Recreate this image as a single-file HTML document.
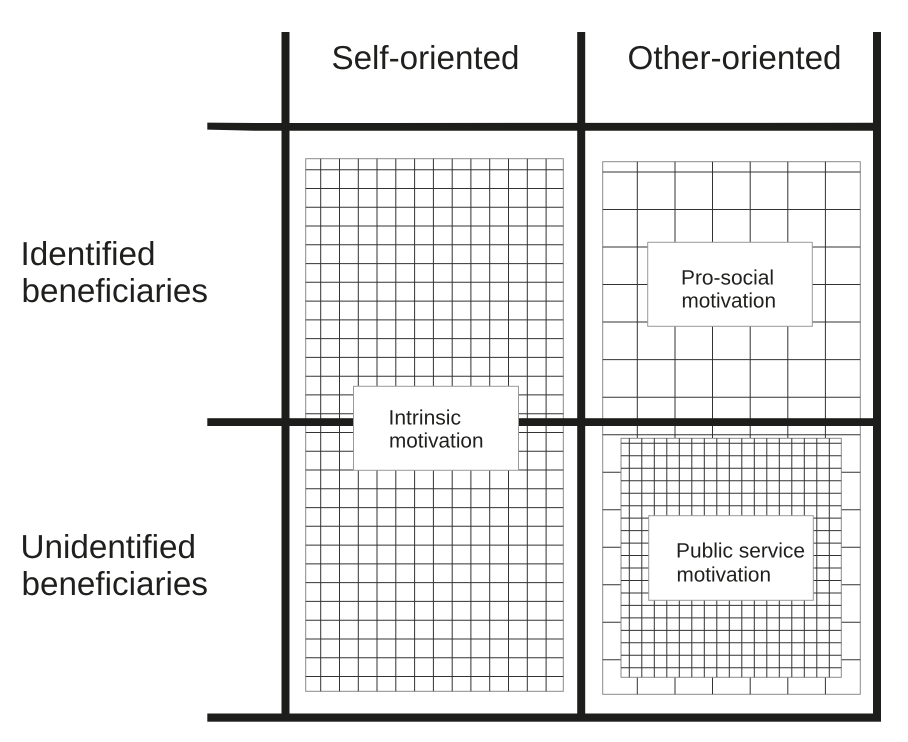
<!DOCTYPE html>
<html lang="en">
<head>
<meta charset="utf-8">
<title>Motivation matrix</title>
<style>
html,body{margin:0;padding:0;background:#fff;width:908px;height:742px;overflow:hidden}
svg{display:block}
text{font-family:"Liberation Sans",Arial,sans-serif;fill:#1f1f1d;text-rendering:geometricPrecision}
.b{font-size:33.2px}
.s{font-size:20.8px}
</style>
</head>
<body>
<svg width="908" height="742" viewBox="0 0 908 742" xmlns="http://www.w3.org/2000/svg">
<rect width="908" height="742" fill="#fff"/>

<!-- Left grid -->
<rect x="305.7" y="158.7" width="257.6" height="532.6" fill="#fff" stroke="#8a8a8a" stroke-width="1"/>
<path fill="none" stroke="#333" stroke-width="1" d="M320.7 158.7V691.3M339.5 158.7V691.3M358.3 158.7V691.3M377 158.7V691.3M395.8 158.7V691.3M414.6 158.7V691.3M433.4 158.7V691.3M452.2 158.7V691.3M470.9 158.7V691.3M489.7 158.7V691.3M508.5 158.7V691.3M527.3 158.7V691.3M546.1 158.7V691.3"/>
<path fill="none" stroke="#333" stroke-width="1" d="M305.7 169.7H563.3M305.7 188.5H563.3M305.7 207.2H563.3M305.7 226H563.3M305.7 244.8H563.3M305.7 263.6H563.3M305.7 282.3H563.3M305.7 301.1H563.3M305.7 319.9H563.3M305.7 338.6H563.3M305.7 357.4H563.3M305.7 376.2H563.3M305.7 394.9H563.3M305.7 413.7H563.3M305.7 432.5H563.3M305.7 451.3H563.3M305.7 470H563.3M305.7 488.8H563.3M305.7 507.6H563.3M305.7 526.3H563.3M305.7 545.1H563.3M305.7 563.9H563.3M305.7 582.6H563.3M305.7 601.4H563.3M305.7 620.2H563.3M305.7 639H563.3M305.7 657.7H563.3M305.7 676.5H563.3"/>

<!-- Right outer grid -->
<rect x="602.7" y="161.7" width="257.6" height="532.6" fill="#fff" stroke="#8a8a8a" stroke-width="1"/>
<path fill="none" stroke="#333" stroke-width="1" d="M637.3 161.7V694.3M675 161.7V694.3M712.5 161.7V694.3M750.2 161.7V694.3M787.8 161.7V694.3M825.4 161.7V694.3"/>
<path fill="none" stroke="#333" stroke-width="1" d="M602.7 172H860.3M602.7 209.5H860.3M602.7 247H860.3M602.7 284.5H860.3M602.7 322H860.3M602.7 359.6H860.3M602.7 397.2H860.3M602.7 434.7H860.3M602.7 472.2H860.3M602.7 509.7H860.3M602.7 547.2H860.3M602.7 584.7H860.3M602.7 622.2H860.3M602.7 659.7H860.3"/>

<!-- Right inner grid -->
<rect x="621" y="438.3" width="220.3" height="239" fill="#fff" stroke="#8a8a8a" stroke-width="1"/>
<path fill="none" stroke="#333" stroke-width="1" d="M629.3 438.3V677.3M641.8 438.3V677.3M654.3 438.3V677.3M666.8 438.3V677.3M679.3 438.3V677.3M691.8 438.3V677.3M704.3 438.3V677.3M716.8 438.3V677.3M729.3 438.3V677.3M741.8 438.3V677.3M754.3 438.3V677.3M766.8 438.3V677.3M779.3 438.3V677.3M791.8 438.3V677.3M804.3 438.3V677.3M816.8 438.3V677.3M829.3 438.3V677.3"/>
<path fill="none" stroke="#333" stroke-width="1" d="M621 443.3H841.3M621 455.8H841.3M621 468.2H841.3M621 480.7H841.3M621 493.2H841.3M621 505.7H841.3M621 518.1H841.3M621 530.6H841.3M621 543.1H841.3M621 555.5H841.3M621 568H841.3M621 580.5H841.3M621 593H841.3M621 605.4H841.3M621 617.9H841.3M621 630.4H841.3M621 642.8H841.3M621 655.3H841.3M621 667.8H841.3"/>

<!-- Thick matrix lines -->
<g fill="#1d1d1b">
<rect x="281.5" y="32" width="8" height="689.5"/>
<rect x="577.2" y="32" width="8" height="689.5"/>
<rect x="873" y="32" width="8" height="689.5"/>
<path d="M207.3 122.6L255 123L881 122.8V130.7H255L207.3 129.6Z"/>
<rect x="207.3" y="418.2" width="673.7" height="7.8"/>
<rect x="207.3" y="713.5" width="673.7" height="8.2"/>
</g>

<!-- Label boxes -->
<g fill="#fff" stroke="#9a9a9a" stroke-width="1">
<rect x="353.5" y="386.3" width="165" height="84"/>
<rect x="647.7" y="242.3" width="164.6" height="84"/>
<rect x="648.7" y="515.7" width="164.6" height="84.6"/>
</g>

<!-- Text -->
<text class="b" x="331.5" y="69" textLength="188" lengthAdjust="spacingAndGlyphs">Self-oriented</text>
<text class="b" x="627.5" y="69" textLength="214" lengthAdjust="spacingAndGlyphs">Other-oriented</text>
<text class="b" x="20.5" y="265" textLength="135" lengthAdjust="spacingAndGlyphs">Identified</text>
<text class="b" x="21.5" y="302" textLength="186.5" lengthAdjust="spacingAndGlyphs">beneficiaries</text>
<text class="b" x="20.5" y="558" textLength="175.5" lengthAdjust="spacingAndGlyphs">Unidentified</text>
<text class="b" x="21.5" y="595" textLength="186.5" lengthAdjust="spacingAndGlyphs">beneficiaries</text>

<text class="s" x="388.5" y="424.3" textLength="72.5" lengthAdjust="spacingAndGlyphs">Intrinsic</text>
<text class="s" x="389" y="447.3" textLength="94.5" lengthAdjust="spacingAndGlyphs">motivation</text>
<text class="s" x="681" y="284.3" textLength="93" lengthAdjust="spacingAndGlyphs">Pro-social</text>
<text class="s" x="681.5" y="307.3" textLength="94.5" lengthAdjust="spacingAndGlyphs">motivation</text>
<text class="s" x="676" y="557.7" textLength="129" lengthAdjust="spacingAndGlyphs">Public service</text>
<text class="s" x="676.5" y="581.3" textLength="94.5" lengthAdjust="spacingAndGlyphs">motivation</text>
</svg>
</body>
</html>
